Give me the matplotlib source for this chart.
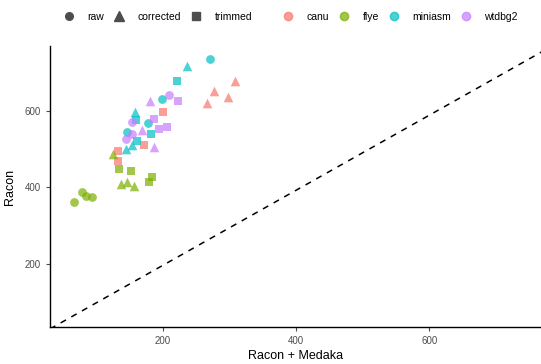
import matplotlib
matplotlib.use("Agg")
import matplotlib.pyplot as plt
from matplotlib import font_manager
from matplotlib.lines import Line2D

# pick the regular (not narrow) Liberation Sans face
for f in font_manager.fontManager.ttflist:
    if f.fname.endswith('LiberationSans-Regular.ttf'):
        plt.rcParams['font.family'] = [f.name, 'DejaVu Sans']
        break
else:
    plt.rcParams['font.family'] = ['Liberation Sans', 'DejaVu Sans']

# polished assembly scores: Racon + Medaka (x) vs Racon only (y)
assembler = (['canu'] * 8 + ['flye'] * 12 + ['miniasm'] * 12 + ['wtdbg2'] * 11)
reads = (['corrected'] * 4 + ['trimmed'] * 4 +
         ['raw'] * 4 + ['corrected'] * 4 + ['trimmed'] * 4 +
         ['raw'] * 4 + ['corrected'] * 4 + ['trimmed'] * 4 +
         ['raw'] * 4 + ['corrected'] * 3 + ['trimmed'] * 4)
medaka = [308, 276, 297, 266, 200, 171, 132, 132,
          78, 84, 93, 66, 125, 136, 146, 156, 134, 151, 184, 179,
          270, 198, 177, 146, 236, 158, 153, 144, 221, 159, 182, 161,
          209, 154, 153, 144, 180, 168, 187, 222, 186, 194, 206]
racon = [678, 653, 636, 622, 597, 511, 496, 468,
         388, 378, 375, 361, 487, 408, 413, 404, 449, 443, 427, 414,
         735, 632, 569, 546, 718, 598, 510, 501, 678, 576, 539, 522,
         643, 572, 540, 527, 626, 551, 505, 625, 579, 554, 557]

assemblers = ['canu', 'flye', 'miniasm', 'wtdbg2']
read_types = ['raw', 'corrected', 'trimmed']
colors = {'canu': '#F8766D', 'flye': '#7CAE00', 'miniasm': '#00BFC4', 'wtdbg2': '#C77CFF'}
markers = {'raw': 'o', 'corrected': '^', 'trimmed': 's'}
sizes = {'raw': 40, 'corrected': 48, 'trimmed': 34}

fig = plt.figure(figsize=(5.41, 3.64), dpi=100)
ax = fig.add_axes([50 / 541, 37 / 364, 491 / 541, 281 / 364])

for a, r, x, y in zip(assembler, reads, medaka, racon):
    ax.scatter(x, y, color=colors[a], marker=markers[r], s=sizes[r],
               alpha=0.7, linewidths=0, zorder=3)

lo, hi = 30, 768
ax.plot([lo, 800], [lo, 785], color='black', linestyle=(0, (4, 4)), linewidth=1.1, zorder=2)
ax.set_xlim(lo, hi)
ax.set_ylim(35, 770)

ax.set_xticks([200, 400, 600])
ax.set_yticks([200, 400, 600])
for side in ['top', 'right']:
    ax.spines[side].set_visible(False)
for side in ['left', 'bottom']:
    ax.spines[side].set_linewidth(1.0)
ax.tick_params(axis='both', labelsize=7, colors='#4d4d4d', length=3, width=0.8,
               labelcolor='#4d4d4d')
ax.set_xlabel('Racon + Medaka', fontsize=9, labelpad=3)
ax.set_ylabel('Racon', fontsize=9, labelpad=6)

shape_handles = [Line2D([], [], linestyle='none', marker=markers[r], color='#4d4d4d',
                        markersize=6.5 if r == 'corrected' else 5.5) for r in read_types]
fig.legend(shape_handles, read_types, loc='center', bbox_to_anchor=(0.292, 0.953),
           ncol=3, frameon=False, fontsize=7.5, handletextpad=1.3, columnspacing=0.9,
           handlelength=1.0)

color_handles = [Line2D([], [], linestyle='none', marker='o', color=colors[a], alpha=0.7,
                        markersize=6) for a in assemblers]
fig.legend(color_handles, assemblers, loc='center', bbox_to_anchor=(0.74, 0.953),
           ncol=4, frameon=False, fontsize=7.5, handletextpad=1.3, columnspacing=0.9,
           handlelength=1.0)

fig.savefig('out.png', dpi=100)
